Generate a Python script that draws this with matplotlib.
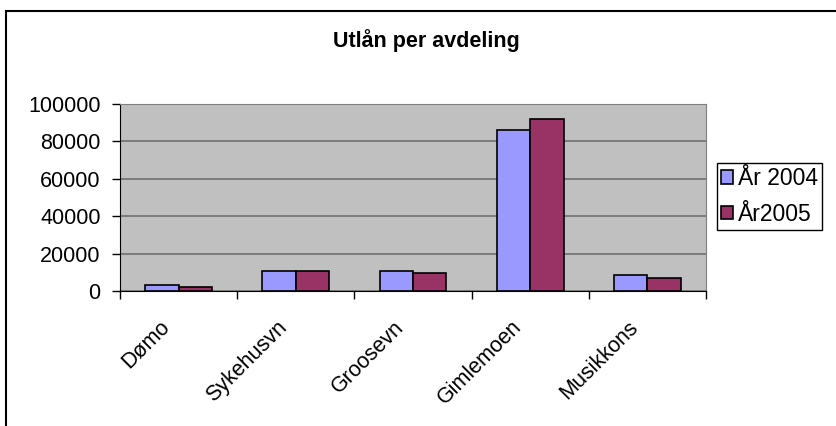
import numpy as np
import matplotlib
matplotlib.use("Agg")
import matplotlib.pyplot as plt
from matplotlib.patches import Rectangle
from matplotlib.transforms import offset_copy

plt.rcParams["font.family"] = ["Liberation Sans", "DejaVu Sans"]

categories = ["Dømo", "Sykehusvn", "Groosevn", "Gimlemoen", "Musikkons"]
series_names = ["År 2004", "År2005"]
vals_2004 = [3200, 10900, 10700, 86300, 8700]
vals_2005 = [2350, 10900, 9800, 91800, 7100]
yticks = [0, 20000, 40000, 60000, 80000, 100000]

W, H = 837, 426
fig = plt.figure(figsize=(W / 100, H / 100), dpi=100, facecolor="white")
ax = fig.add_axes([120 / W, 1 - 291 / H, (706 - 120) / W, (291 - 104) / H])
ax.set_facecolor("#C0C0C0")

x = np.arange(len(categories)) + 0.5
bw = 1 / 3.5
b1 = ax.bar(x - bw / 2, vals_2004, bw, color="#9999FF", edgecolor="black", linewidth=1.2, label=series_names[0], zorder=3)
b2 = ax.bar(x + bw / 2, vals_2005, bw, color="#993366", edgecolor="black", linewidth=1.2, label=series_names[1], zorder=3)

ax.set_xlim(0, len(categories))
ax.set_ylim(0, 100000)
ax.set_yticks(yticks)
ax.set_yticklabels([str(v) for v in yticks], fontsize=15.5)
ax.yaxis.grid(True, color="#707070", linewidth=1.2, zorder=1)
ax.set_axisbelow(True)

# tick marks at category boundaries, labels drawn separately
ax.set_xticks(np.arange(len(categories) + 1))
ax.set_xticklabels([])
ax.tick_params(axis="x", direction="out", length=6, width=1, color="black")
ax.tick_params(axis="y", direction="out", length=6, width=1, color="black", pad=8)

trans = offset_copy(ax.get_xaxis_transform(), fig=fig, x=-12, y=-33, units="dots")
for xi, lab in zip(x, categories):
    ax.text(xi, 0, lab, transform=trans, rotation=45, rotation_mode="anchor",
            ha="right", va="center", fontsize=15.5)

for s in ["top", "right"]:
    ax.spines[s].set_color("#808080")
ax.spines["left"].set_color("black")
ax.spines["bottom"].set_color("black")

fig.text(426 / W, 1 - 41 / H, "Utlån per avdeling", ha="center", va="center",
         fontsize=15.5, fontweight="bold")

leg = fig.legend(handles=[b1, b2], labels=series_names, loc="upper left",
                 bbox_to_anchor=(717 / W, 1 - 163 / H), fontsize=16.5,
                 frameon=True, fancybox=False, edgecolor="black", framealpha=1,
                 handlelength=0.5, handleheight=0.5, handletextpad=0.25,
                 labelspacing=0.55, borderpad=0.18, borderaxespad=0)
leg.get_frame().set_linewidth(1)

fig.patches.append(Rectangle((6 / W, -0.1), 2, 1.1 - 11 / H, transform=fig.transFigure,
                             fill=False, edgecolor="black", linewidth=1.5))

fig.savefig("out.png", dpi=100, facecolor="white")
